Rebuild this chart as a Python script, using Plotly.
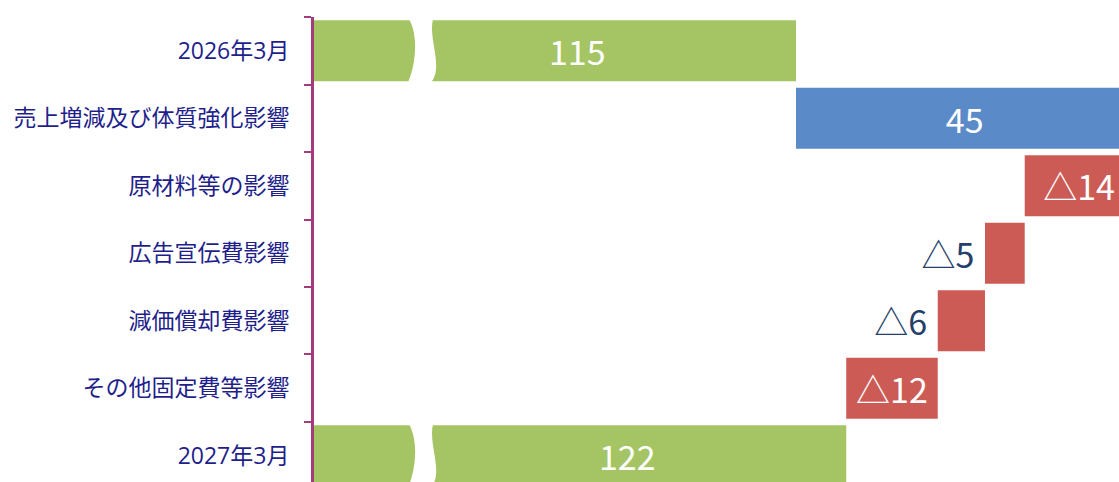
import plotly.graph_objects as go

# ---- data ----
categories = ["2026年3月", "売上増減及び体質強化影響", "原材料等の影響", "広告宣伝費影響",
              "減価償却費影響", "その他固定費等影響", "2027年3月"]
start_value = 115.0
changes = [45.0, -14.5, -5.3, -6.3, -12.2]
labels = ["115", "45", "△14", "△5", "△6", "△12", "122"]
label_pos = ["total", "inside", "inside", "outside", "outside", "inside", "total"]

# ---- style ----
GREEN = "#a5c463"
BLUE = "#5a8bc8"
RED = "#cc5b56"
AXIS = "#a23c7a"
LABEL = "#1f1f8c"
OUT_TXT = "#24406a"
FONT = "Noto Sans CJK JP"
LABEL_FONT = "Open Sans, Noto Sans CJK JP"
X_RANGE = [50.73, 158.07]
BREAK_AT = 63.4

# build bars (base + length) from the data
end_value = start_value + sum(changes)
bases, lengths, colors = [], [], []
bases.append(0.0); lengths.append(start_value); colors.append(GREEN)
run = start_value
for c in changes:
    bases.append(run); lengths.append(c); colors.append(BLUE if c > 0 else RED)
    run += c
bases.append(0.0); lengths.append(end_value); colors.append(GREEN)

texts, tpos = [], []
for lab, p in zip(labels, label_pos):
    if p == "total":
        texts.append(""); tpos.append("none")
    elif p == "outside":
        texts.append(lab + "\u00a0"); tpos.append("outside")
    else:
        texts.append(lab); tpos.append("inside")

fig = go.Figure()
fig.add_trace(go.Bar(
    y=categories, x=lengths, base=bases, orientation="h",
    marker=dict(color=colors, line=dict(width=0)),
    text=texts, textposition=tpos,
    insidetextanchor="middle",
    insidetextfont=dict(color="white", size=34, family=FONT),
    outsidetextfont=dict(color=OUT_TXT, size=34, family=FONT),
    textangle=0, cliponaxis=True, hoverinfo="skip",
))

# total labels
for idx, val in [(0, start_value), (6, end_value)]:
    fig.add_annotation(x=val, y=categories[idx], xref="x", yref="y",
                       text=labels[idx], showarrow=False, xanchor="right",
                       xshift=-188, font=dict(color="white", size=34, family=FONT))

# axis break marks on the two total bars (S-shaped white gap)
px = 1 / 7.5
for idx in (0, 6):
    yt, yb = idx - 0.47, idx + 0.47
    L = BREAK_AT
    R = BREAK_AT + 24 * px
    path = (f"M {L},{yt} C {L + 11 * px},{yt + 0.3} {L + 5 * px},{yt + 0.75} {L - 1 * px},{yb} "
            f"L {R - 2 * px},{yb} C {R + 11 * px},{yt + 0.72} {R - 5 * px},{yt + 0.3} {R},{yt} Z")
    fig.add_shape(type="path", path=path, xref="x", yref="y",
                  fillcolor="white", line=dict(width=0), layer="above")

fig.update_layout(
    width=1119, height=482,
    margin=dict(l=314, r=0, t=17, b=0, pad=0),
    paper_bgcolor="white", plot_bgcolor="white",
    bargap=0.096, showlegend=False,
    font=dict(family=FONT),
)
fig.update_xaxes(range=X_RANGE, visible=False, showgrid=False, zeroline=False)
fig.update_yaxes(
    type="category", categoryorder="array", categoryarray=categories,
    range=[6.389, -0.5], tickson="boundaries",
    ticks="outside", ticklen=7, tickwidth=2, tickcolor=AXIS,
    showline=True, linecolor=AXIS, linewidth=3,
    showgrid=False, zeroline=False,
    tickfont=dict(color=LABEL, size=23, family=LABEL_FONT),
    ticklabelstandoff=17,
)

fig.write_html("out.html",
               config={"displayModeBar": False},
               post_script="document.body.style.margin='0';document.body.style.overflow='hidden';")
